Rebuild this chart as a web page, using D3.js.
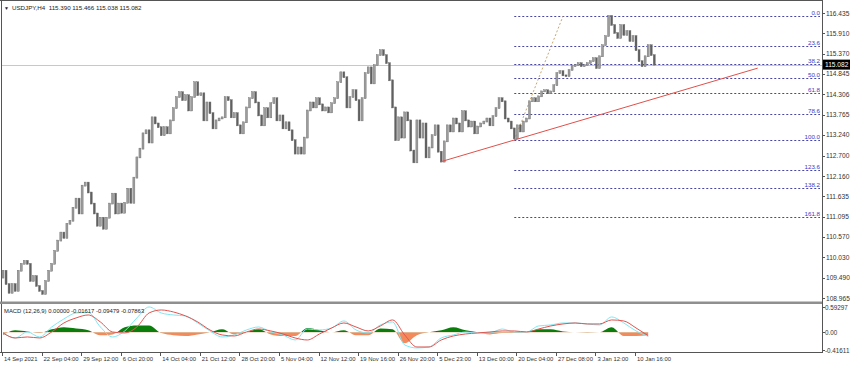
<!DOCTYPE html>
<html>
<head>
<meta charset="utf-8">
<script src="https://cdn.jsdelivr.net/npm/d3@7"></script>
<style>
  body { margin: 0; background: #fff; }
  svg { display: block; font-family: "Liberation Sans", Arial, sans-serif; }
</style>
</head>
<body>
<svg id="chart" width="850" height="365"></svg>
<script>
// values (H4 bars, resampled)
var symbolTitle = "USDJPY,H4";
var lastOHLC = ["115.390", "115.466", "115.038", "115.082"];
var lastPrice = 115.082;
var firstOpen = 109.50;

var closes = [
  109.68, 109.33, 109.10, 109.33, 109.15, 109.68, 109.86, 109.94, 109.86, 109.41, 109.54, 109.28, 109.15,
  109.07, 109.41, 109.68, 109.86, 110.20, 110.47, 110.68, 110.54, 110.91, 110.99, 111.33, 111.57, 111.18,
  111.91, 111.99, 111.73, 111.44, 111.18, 110.86, 111.07, 110.78, 111.07, 111.44, 111.70, 111.18, 111.44,
  111.20, 111.46, 111.83, 111.46, 112.12, 112.65, 112.88, 113.28, 113.36, 113.04, 113.70, 113.54, 113.44,
  113.23, 113.44, 113.28, 113.62, 113.94, 114.23, 114.36, 114.15, 114.28, 113.88, 114.23, 114.62, 114.28,
  114.33, 113.62, 114.09, 113.81, 113.41, 113.62, 113.67, 113.70,
  114.23, 114.15, 113.70, 113.81, 113.49, 113.28, 113.57, 113.96, 114.20, 114.36,
  114.09, 113.75, 113.49, 113.94, 113.70, 114.07, 114.20, 113.62, 113.75, 113.41,
  113.57, 113.36, 113.10, 112.75, 112.91, 112.75, 113.17, 113.88, 114.09, 113.96,
  114.20, 114.04, 113.88, 113.96, 113.83, 114.07, 114.20, 114.62, 114.88,
  114.75, 113.96, 114.23, 114.41, 114.15, 113.62, 114.20, 114.86, 115.01, 114.59,
  115.07, 115.33, 115.46, 115.33, 115.12, 114.67, 113.96, 113.10, 113.70, 113.17,
  113.83, 113.62, 112.83, 112.52, 113.62, 113.17, 113.54, 112.65, 112.91,
  113.23,
  113.49, 112.80, 112.54, 113.07, 113.49, 113.33, 113.67, 113.54, 113.33, 113.86,
  113.62, 113.46, 113.59, 113.28, 113.46, 113.54, 113.59, 113.67, 113.49, 113.73,
  113.94, 114.20, 114.12, 113.67, 113.59, 113.41, 113.15, 113.49, 113.33, 113.59,
  113.67, 114.12, 114.20, 114.12, 114.25, 114.38, 114.41, 114.33, 114.38, 114.54,
  114.86, 114.91, 114.80, 114.78, 114.94, 115.04, 115.07, 115.12, 115.04, 115.07,
  115.12, 115.17, 115.25, 114.99, 115.30, 115.59, 115.83, 116.36, 116.12, 115.91,
  115.78, 116.12, 115.86, 115.96, 115.70, 115.83, 115.46, 115.17, 115.04, 115.30,
  115.59, 115.33, 115.082
];

var priceTicks = [116.435, 115.910, 115.370, 114.845, 114.306, 113.765, 113.240, 112.700,
                  112.160, 111.635, 111.095, 110.570, 110.030, 109.490, 108.965];

var timeLabels = ["14 Sep 2021", "22 Sep 04:00", "29 Sep 12:00", "6 Oct 20:00", "14 Oct 04:00",
                  "21 Oct 12:00", "28 Oct 20:00", "5 Nov 04:00", "12 Nov 12:00", "19 Nov 16:00",
                  "26 Nov 20:00", "5 Dec 23:00", "13 Dec 00:00", "20 Dec 04:00", "27 Dec 08:00",
                  "3 Jan 12:00", "10 Jan 16:00"];
var timeTickBars = [0, 13, 26, 39, 52, 65, 78, 91, 104, 117, 130, 143, 156, 169, 182, 195, 208];

// fibonacci retracement + trend line
var fibHigh = 116.35;
var fibLow = 113.10;
var fibLevels = [0, 23.6, 38.2, 50, 61.8, 78.6, 100, 123.6, 138.2, 161.8];
var fibBars = [168, 184];
var trendBars = [144, 248];
var trendPrices = [112.54, 114.99];

// MACD, one reading every macdStep bars
var macdStep = 4;
var macdMain = [-0.016, -0.134, 0.007, -0.110, 0.124, 0.312, 0.453, 0.465, 0.124, -0.110,
                0.031, 0.336, 0.594, 0.453, 0.406, 0.383, 0.218, 0.031, -0.110, -0.063,
                0.054, 0.124, 0.007, -0.063, -0.181, 0.077, 0.054, 0.101, 0.265, 0.054,
                -0.016, 0.171, 0.242, -0.298, -0.368, -0.345, -0.134, -0.063, 0.007, -0.016,
                -0.016, 0.077, 0.007, 0.007, 0.148, 0.171, 0.218, 0.218, 0.195, 0.171,
                0.359, 0.218, 0.031, -0.095];
var macdSignal = [-0.016, -0.134, -0.110, -0.134, 0.007, 0.218, 0.336, 0.406, 0.242, 0.007,
                  -0.016, 0.124, 0.453, 0.523, 0.476, 0.383, 0.242, 0.054, -0.063, -0.087,
                  0.007, 0.077, 0.031, -0.040, -0.134, -0.181, -0.040, 0.101, 0.218, 0.124,
                  0.031, 0.148, 0.289, -0.063, -0.345, -0.345, -0.181, -0.087, -0.040, -0.016,
                  0.007, 0.031, 0.031, 0.007, 0.077, 0.148, 0.195, 0.218, 0.195, 0.195,
                  0.289, 0.265, 0.101, -0.079];
var macdHist = [-0.07, 0.05, 0.02, -0.02, 0.07, 0.12, 0.09, 0.05, -0.07, -0.05,
                0.12, 0.16, 0.16, -0.02, -0.07, -0.09, -0.05, 0.00, 0.07, -0.05,
                0.00, 0.07, -0.05, -0.09, -0.09, 0.10, 0.05, 0.00, 0.05, -0.07,
                -0.07, 0.09, 0.07, -0.26, -0.07, 0.00, 0.05, 0.12, 0.05, 0.00,
                -0.05, -0.02, -0.02, 0.00, 0.07, 0.07, 0.02, 0.00, -0.01, 0.00,
                0.12, -0.09, -0.09, -0.07];
var macdTicks = [0.59297, 0.00, -0.41611];
var macdTicksText = ["0.59297", "0.00", "-0.41611"];
var macdTitle = "MACD (12,26,9) 0.00000 -0.01617 -0.09479 -0.07863";

var plotRight = 822;

var svg = d3.select("#chart");

var x = d3.scaleLinear().domain([0, 208]).range([3, 636]);
var y = d3.scaleLinear().domain([108.965, 116.435]).range([298, 13]);
var ym = d3.scaleLinear().domain([-0.41611, 0.59297]).range([350, 307]);

// frame
svg.append("line").attr("x1", 1.5).attr("x2", 1.5).attr("y1", 0).attr("y2", 352)
   .attr("stroke", "#555");
svg.append("line").attr("x1", 0).attr("x2", plotRight).attr("y1", 0.5).attr("y2", 0.5)
   .attr("stroke", "#555");
svg.append("line").attr("x1", plotRight + 0.5).attr("x2", plotRight + 0.5).attr("y1", 0).attr("y2", 352)
   .attr("stroke", "#555");
svg.append("rect").attr("x", 0).attr("y", 301.5).attr("width", plotRight).attr("height", 2.5)
   .attr("fill", "#8f8f8f");
svg.append("line").attr("x1", 0).attr("x2", plotRight + 1).attr("y1", 352.5).attr("y2", 352.5)
   .attr("stroke", "#555");

// current price line
svg.append("line")
   .attr("x1", 2).attr("x2", plotRight)
   .attr("y1", Math.round(y(lastPrice)) + 0.5).attr("y2", Math.round(y(lastPrice)) + 0.5)
   .attr("stroke", "#c8c8c8");

// fibonacci levels
var fibPrice = function(l) { return fibHigh - (fibHigh - fibLow) * l / 100; };
var fib = svg.append("g");
fib.selectAll("line")
   .data(fibLevels)
   .enter()
   .append("line")
   .attr("x1", x(fibBars[0]))
   .attr("x2", plotRight - 2)
   .attr("y1", function(d) { return Math.round(y(fibPrice(d))) + 0.5; })
   .attr("y2", function(d) { return Math.round(y(fibPrice(d))) + 0.5; })
   .attr("stroke", "#4646a8")
   .attr("stroke-dasharray", "2,2");
fib.selectAll("text")
   .data(fibLevels)
   .enter()
   .append("text")
   .text(function(d) { return d.toFixed(1); })
   .attr("x", plotRight - 2)
   .attr("y", function(d) { return Math.round(y(fibPrice(d))) - 1; })
   .attr("text-anchor", "end")
   .attr("font-size", "6.2px")
   .attr("fill", "#3a3acc");
svg.append("line")
   .attr("x1", x(fibBars[0])).attr("y1", y(fibLow))
   .attr("x2", x(fibBars[1])).attr("y2", y(fibHigh))
   .attr("stroke", "#c9a870")
   .attr("stroke-dasharray", "2,2");

// candles
var openOf = function(i) { return i === 0 ? firstOpen : closes[i - 1]; };
var bars = svg.append("g");
bars.selectAll("rect")
    .data(closes)
    .enter()
    .append("rect")
    .attr("x", function(d, i) { return x(i) - 1; })
    .attr("width", 2)
    .attr("y", function(d, i) { return y(Math.max(openOf(i), d)) - 0.5; })
    .attr("height", function(d, i) {
      return Math.max(1, Math.abs(y(openOf(i)) - y(d)) + 1);
    })
    .attr("fill", function(d, i) { return d >= openOf(i) ? "#9c9c9c" : "#606060"; })
    .attr("stroke", "#6a6a6a")
    .attr("stroke-width", 0.4);

// trend line
svg.append("line")
   .attr("x1", x(trendBars[0])).attr("y1", y(trendPrices[0]))
   .attr("x2", x(trendBars[1])).attr("y2", y(trendPrices[1]))
   .attr("stroke", "#e0504a")
   .attr("stroke-width", 1);

// price axis
var pa = svg.append("g");
pa.selectAll("line")
  .data(priceTicks)
  .enter()
  .append("line")
  .attr("x1", plotRight).attr("x2", plotRight + 3)
  .attr("y1", function(d) { return Math.round(y(d)) + 0.5; })
  .attr("y2", function(d) { return Math.round(y(d)) + 0.5; })
  .attr("stroke", "#555");
pa.selectAll("text")
  .data(priceTicks)
  .enter()
  .append("text")
  .text(function(d) { return d.toFixed(3); })
  .attr("x", plotRight + 4)
  .attr("y", function(d) { return y(d) + 2.5; })
  .attr("font-size", "6.6px")
  .attr("fill", "#333");
svg.append("rect")
   .attr("x", plotRight + 1).attr("y", y(lastPrice) - 5)
   .attr("width", 27).attr("height", 10)
   .attr("fill", "#000");
svg.append("text")
   .text(lastOHLC[3])
   .attr("x", plotRight + 3).attr("y", y(lastPrice) + 2.5)
   .attr("font-size", "6.6px")
   .attr("fill", "#fff");

// header
svg.append("text").text("\u25BC").attr("x", 4).attr("y", 9.5)
   .attr("font-size", "5px").attr("fill", "#222");
svg.append("text")
   .text(symbolTitle + "  " + lastOHLC.join(" "))
   .attr("x", 12).attr("y", 10)
   .attr("font-size", "6.2px")
   .attr("fill", "#222")
   .style("white-space", "pre");

// MACD panel
var mx = function(d, i) { return x(i * macdStep); };
var zeroY = ym(0);
svg.append("clipPath").attr("id", "posClip")
   .append("rect").attr("x", 0).attr("y", 304).attr("width", plotRight).attr("height", zeroY - 304);
svg.append("clipPath").attr("id", "negClip")
   .append("rect").attr("x", 0).attr("y", zeroY).attr("width", plotRight).attr("height", 352 - zeroY);

var histArea = d3.area()
  .x(mx)
  .y0(zeroY)
  .y1(function(d) { return ym(d); })
  .curve(d3.curveMonotoneX);

svg.append("path").datum(macdHist)
   .attr("d", histArea).attr("fill", "#0a7d0a").attr("clip-path", "url(#posClip)");
svg.append("path").datum(macdHist)
   .attr("d", histArea).attr("fill", "#f48a5c").attr("clip-path", "url(#negClip)");

var mline = d3.line()
  .x(mx)
  .y(function(d) { return ym(d); })
  .curve(d3.curveMonotoneX);

svg.append("path").datum(macdMain)
   .attr("d", mline).attr("fill", "none").attr("stroke", "#7ee8f4").attr("stroke-width", 1);
svg.append("path").datum(macdSignal)
   .attr("d", mline).attr("fill", "none").attr("stroke", "#e0554f").attr("stroke-width", 1);

svg.append("text").text(macdTitle)
   .attr("x", 4).attr("y", 313)
   .attr("font-size", "5.9px").attr("fill", "#222");

var ma = svg.append("g");
ma.selectAll("line")
  .data(macdTicks)
  .enter()
  .append("line")
  .attr("x1", plotRight).attr("x2", plotRight + 3)
  .attr("y1", function(d) { return Math.round(ym(d)) + 0.5; })
  .attr("y2", function(d) { return Math.round(ym(d)) + 0.5; })
  .attr("stroke", "#555");
ma.selectAll("text")
  .data(macdTicks)
  .enter()
  .append("text")
  .text(function(d, i) { return macdTicksText[i]; })
  .attr("x", plotRight + 3)
  .attr("y", function(d) { return ym(d) + 2.5; })
  .attr("font-size", "6.3px")
  .attr("fill", "#333");

// time axis
var ta = svg.append("g");
ta.selectAll("line")
  .data(timeTickBars)
  .enter()
  .append("line")
  .attr("x1", function(d) { return Math.round(x(d)) - 0.5; })
  .attr("x2", function(d) { return Math.round(x(d)) - 0.5; })
  .attr("y1", 352).attr("y2", 356)
  .attr("stroke", "#555");
ta.selectAll("text")
  .data(timeTickBars)
  .enter()
  .append("text")
  .text(function(d, i) { return timeLabels[i]; })
  .attr("x", function(d) { return x(d) + 1; })
  .attr("y", 360.5)
  .attr("font-size", "5.9px")
  .attr("fill", "#333");
</script>
</body>
</html>
